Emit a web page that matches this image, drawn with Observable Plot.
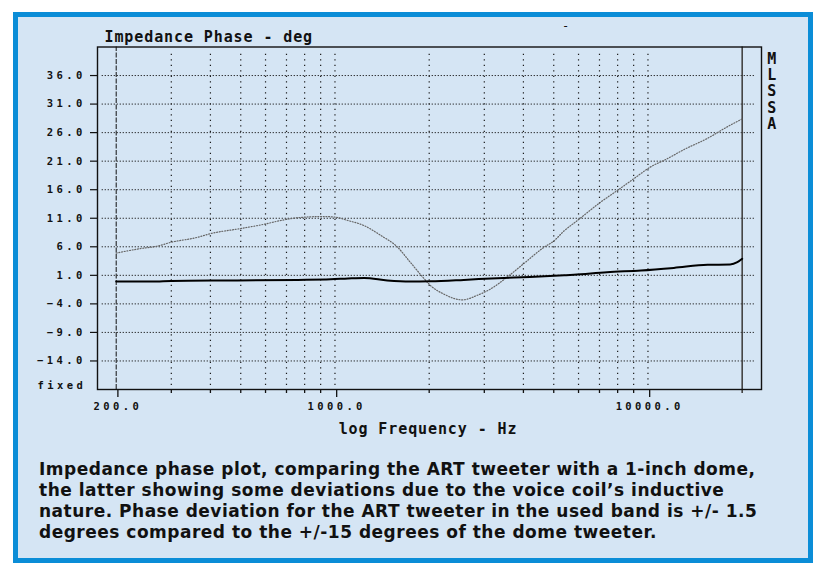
<!DOCTYPE html>
<html>
<head>
<meta charset="utf-8">
<script src="https://cdn.jsdelivr.net/npm/d3@7"></script>
<script src="https://cdn.jsdelivr.net/npm/@observablehq/plot@0.6"></script>
<style>
  body { margin: 0; background: #ffffff; width: 815px; height: 566px; overflow: hidden; position: relative; }
  #box { position: absolute; left: 13px; top: 12px; width: 790px; height: 541px; border: 5px solid #0b8dd7; background: #d5e5f4; }
  #chart { position: absolute; left: 0; top: 0; }
  #caption { position: absolute; left: 39px; top: 458.5px; font-family: "DejaVu Sans", sans-serif; font-weight: 700; font-size: 17px; line-height: 21.3px; color: #111; white-space: nowrap; }
</style>
</head>
<body>
<div id="box"></div>
<div id="chart"></div>
<div id="caption">Impedance phase plot, comparing the ART tweeter with a 1-inch dome,<br>the latter showing some deviations due to the voice coil’s inductive<br>nature. Phase deviation for the ART tweeter in the used band is +/- 1.5<br>degrees compared to the +/-15 degrees of the dome tweeter.</div>
<script>
// ---- data ----
const domeFreq  = [200,240,270,300,360,400,500,600,670,760,920,1000,1100,1240,1400,1580,1740,1900,2020,2230,2550,2850,3140,3550,4000,4650,5000,5400,5950,7050,8000,9000,10200,11500,13000,15500,17900,20000];
const domePhase = [4.9,5.7,6.1,6.8,7.6,8.3,9.2,10.0,10.6,11.1,11.3,11.2,10.6,9.7,8.0,6.0,3.3,0.8,-0.8,-2.3,-3.3,-2.5,-1.4,0.7,3.0,5.9,7.0,8.8,10.6,13.8,15.9,17.9,20.0,21.4,23.0,25.0,27.0,28.4];
const artFreq  = [200,260,300,464,760,970,1100,1240,1470,1740,2020,2580,3300,4200,5400,5800,7400,9500,12100,15500,18300,19300,20000];
const artPhase = [-0.1,-0.1,0.0,0.1,0.2,0.3,0.45,0.55,0.1,-0.1,-0.05,0.2,0.5,0.7,1.0,1.1,1.55,1.85,2.3,2.85,2.9,3.3,3.9];
const yTicks = [36,31,26,21,16,11,6,1,-4,-9,-14];
const minorFreqs = [300,400,500,600,700,800,900,2000,3000,4000,5000,6000,7000,8000,9000];
const majorFreqs = [200,1000,10000];
const gridFreqs = [...minorFreqs, 1000, 10000];
const endFreq = 20000;
const xDomain = [174.3, 23053];
const yDomain = [-19, 41];
const titleText = "Impedance Phase - deg";
const xLabelText = "log Frequency - Hz";
const sideText = "M\nL\nS\nS\nA";

const dome = domeFreq.map((f, i) => ({f, p: domePhase[i]}));
const art = artFreq.map((f, i) => ({f, p: artPhase[i]}));

const mono = "'DejaVu Sans Mono', monospace";

const plot = Plot.plot({
  width: 815,
  height: 445,
  marginLeft: 97,
  marginRight: 54,
  marginTop: 46.5,
  marginBottom: 56,
  style: {background: "transparent", overflow: "visible", fontFamily: mono},
  x: {type: "log", domain: xDomain, axis: null},
  y: {domain: yDomain, axis: null},
  marks: [
    // horizontal dotted grid
    Plot.ruleY(yTicks, {x1: 180.4, x2: 21892, stroke: "#1a1a1a", strokeWidth: 1, strokeDasharray: "1.2,1.8"}),
    // vertical dotted grid
    Plot.ruleX(gridFreqs, {y1: -18.3, y2: 40.3, stroke: "#1a1a1a", strokeWidth: 1.2, strokeDasharray: "1.3,4.2"}),
    // 200 Hz dash line
    Plot.ruleX([200], {y1: -19, y2: 41, stroke: "#111", strokeWidth: 1, strokeDasharray: "5,1.5"}),
    // 20 kHz solid line
    Plot.ruleX([endFreq], {y1: -19.7, y2: 41, stroke: "#444", strokeWidth: 1.6}),
    // frame
    Plot.frame({stroke: "#111", strokeWidth: 1.4}),
    // x ticks
    Plot.axisX(minorFreqs, {label: null, tickSize: 4, tickFormat: () => "", stroke: "#111", strokeWidth: 1.3}),
    Plot.axisX(majorFreqs, {label: null, tickSize: 8, tickPadding: 5.5, tickFormat: d3.format(".1f"), fontSize: 10.5, fontWeight: "bold", stroke: "#111", strokeWidth: 1.3, fill: "#111", dx: 1.7}),
    // y axis
    Plot.axisY(yTicks, {label: null, tickSize: 7, tickPadding: 4.8, tickFormat: d3.format(".1f"), fontSize: 10.5, fontWeight: "bold", stroke: "#111", strokeWidth: 1.2, fill: "#111"}),
    // curves
    Plot.line(dome, {x: "f", y: "p", stroke: "#666", strokeWidth: 1.2, strokeDasharray: "1,1.7", curve: "monotone-x"}),
    Plot.line(art, {x: "f", y: "p", stroke: "#000", strokeWidth: 2, curve: "monotone-x"}),
    // texts
    Plot.text([titleText], {frameAnchor: "top-left", textAnchor: "start", lineAnchor: "middle", dx: 7, dy: -9.6, fontSize: 15, fontWeight: "bold", fill: "#111"}),
    Plot.text([xLabelText], {frameAnchor: "bottom", textAnchor: "middle", lineAnchor: "middle", dx: -1.5, dy: 39.2, fontSize: 15, fontWeight: "bold", fill: "#111"}),
    Plot.text(["fixed"], {frameAnchor: "bottom-left", textAnchor: "end", lineAnchor: "middle", dx: -11.3, dy: -3.5, fontSize: 10.5, fontWeight: "bold", fill: "#111"}),
    Plot.text([sideText], {frameAnchor: "top-right", textAnchor: "middle", lineAnchor: "top", dx: 10.3, dy: 5, fontSize: 15, fontWeight: "bold", lineHeight: 1.09, fill: "#111"}),
    Plot.text(["-"], {frameAnchor: "top-left", textAnchor: "middle", lineAnchor: "middle", dx: 468, dy: -20.8, fontSize: 12, fill: "#111"})
  ]
});

document.getElementById("chart").appendChild(plot);

// letter spacing tweaks for the bitmap-like screen font
d3.select(plot).selectAll('g[aria-label="y-axis tick label"] text, g[aria-label="x-axis tick label"] text').attr("letter-spacing", "3.4px");
d3.select(plot).selectAll("text").each(function() {
  const t = this.textContent;
  if (t === "fixed") this.setAttribute("letter-spacing", "3.4px");
  if (t === titleText || t === xLabelText) this.setAttribute("letter-spacing", "0.9px");
});

// fit caption lines to the reference line width
const cap = document.getElementById("caption");
const targetWidth = 716;
const w = cap.getBoundingClientRect().width;
const firstLineChars = "Impedance phase plot, comparing the ART tweeter with a 1-inch dome,".length;
cap.style.letterSpacing = ((targetWidth - w) / (firstLineChars - 1)) + "px";
</script>
</body>
</html>
